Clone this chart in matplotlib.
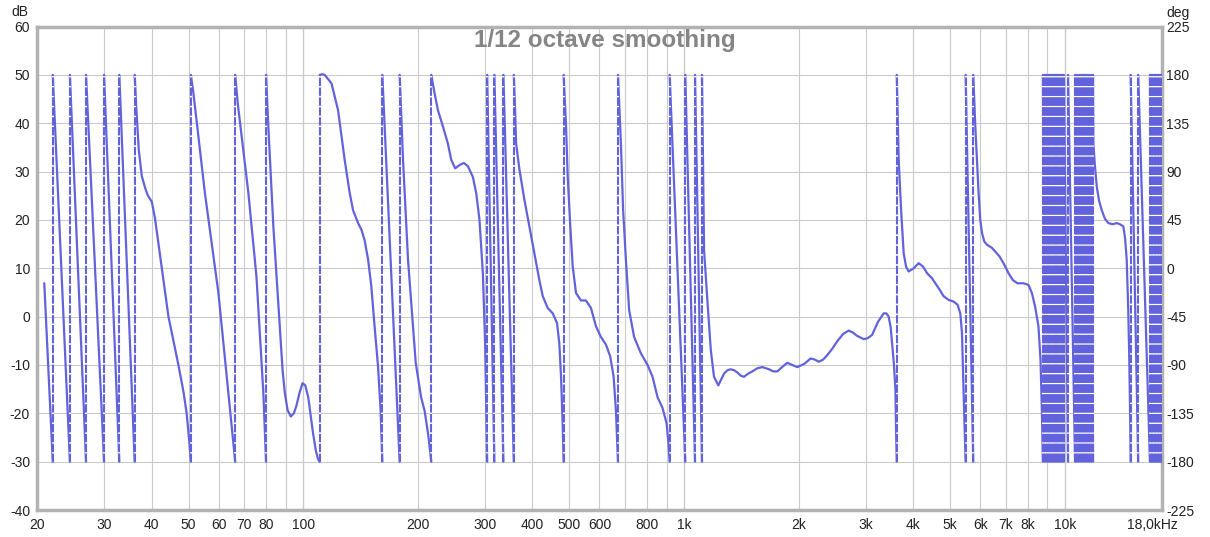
import numpy as np
import matplotlib
matplotlib.use("Agg")
import matplotlib.pyplot as plt
from matplotlib.transforms import ScaledTranslation

plt.rcParams['font.family'] = ['Liberation Sans', 'DejaVu Sans']

# ---------------- data ----------------
TITLE = "1/12 octave smoothing"
db_ticks = list(range(-40, 61, 10))
deg_ticks = list(range(-225, 226, 45))
freq_grid = [20, 30, 40, 50, 60, 70, 80, 90, 100, 200, 300, 400, 500, 600, 700, 800, 900,
             1000, 2000, 3000, 4000, 5000, 6000, 7000, 8000, 9000, 10000, 18000]
freq_labels = ["20", "30", "40", "50", "60", "70", "80", "", "100", "200", "300", "400", "500",
               "600", "", "800", "", "1k", "2k", "3k", "4k", "5k", "6k", "7k", "8k", "", "10k",
               "18,0kHz"]
decade_lines = [100, 1000, 10000]

# frequencies where the wrapped phase jumps from -180 back to +180 (Hz)
wrap_freq = [22.0, 24.4, 26.9, 30.0, 32.9, 36.1, 50.7, 66.3, 79.9, 110.5, 161.4, 179.2, 217.0,
             304.2, 317.8, 335.6, 357.4, 483, 671, 917, 1008, 1069, 1115, 3620, 5490, 5750,
             8760, 8853, 8947, 9042, 9138, 9235, 9333, 9432, 9532, 9633, 9735, 9839, 9943, 10200,
             10641, 10770, 10901, 11033, 11167, 11303, 11440, 11579, 11720, 11862,
             14890, 15590,
             16735, 16887, 17041, 17196, 17352, 17510, 17669, 17830, 17992]

# phase curve points between the wraps (Hz, degrees)
curve_freq = [20.9,
              36.45, 37.01, 37.68, 38.44, 39.06, 40.03, 40.8, 41.6, 42.51, 44.28, 47.03, 48.5, 49.43, 50.19,
              51.5, 55.2, 59.9, 64.9,
              67.3, 71.8, 75.4, 78.6,
              81.0, 83.5, 86.8, 88.3, 89.5, 91.0, 92.8, 94.5, 96.0, 97.8, 99.6, 101.3, 103.1, 104.7,
              106.2, 108.0, 109.5,
              112.0, 113.9, 118.7, 123.5, 128.5, 132.5, 135.2, 139.4, 142.2, 145.0, 148.1, 151.0,
              154.0, 157.3, 159.7,
              182.9, 188.5, 197.5, 204.0, 208.5, 213.0,
              221.3, 225.9, 232.8, 239.9, 244.8, 250.7, 257.3, 264.2, 270.7, 279.0, 284.7, 290.4,
              296.4, 300.5, 302.4,
              360.2, 362.4, 369.7, 380.9, 392.6, 404.7, 417.1, 425.7, 438.7, 452.2, 464.1, 470.6,
              475.5, 480.4,
              490.1, 495.1, 502.9, 510.2, 520.5, 536.4, 552.8, 569.8, 587.3, 605.2, 623.7, 640.2,
              653.5, 662.6, 669.4,
              682.9, 692.2, 703.8, 717.8, 739.7, 770.2, 802.3, 826.9, 852.2, 878.3, 899.8, 910.7,
              1129, 1152, 1176, 1199, 1231, 1250, 1274, 1300, 1327, 1355, 1381, 1410, 1437, 1475,
              1512, 1560, 1606, 1640, 1672, 1715, 1759, 1810, 1867, 1925, 1984, 2070, 2150, 2205,
              2260, 2320, 2377, 2450, 2526, 2620, 2709, 2780, 2850, 2966, 3040, 3120, 3230, 3345,
              3400, 3447, 3490, 3519, 3560, 3591, 3605,
              3663, 3717, 3775, 3830, 3890, 4011, 4133, 4245, 4348, 4481, 4571, 4693, 4806, 4954,
              5105, 5229, 5316, 5370, 5423, 5455,
              5821, 5880, 5938, 5998, 6061, 6144, 6242, 6436, 6566, 6739, 6904, 7115, 7306, 7511,
              7790, 8029, 8196, 8360, 8528, 8634, 8706,
              11885, 12000, 12133, 12300, 12505, 12750, 13014, 13350, 13689, 13950, 14246, 14400,
              14541, 14680, 14771, 14850,
              18100]
curve_deg = [-13.9,
             150, 110, 86, 75, 68, 62, 47, 25, 0, -45, -90, -115, -135, -160,
             163, 70, -23, -147,
             154, 70, -8, -116,
             132, 39, -54, -95, -116, -132, -138, -135, -128, -116, -107, -109, -120, -138,
             -154, -170, -178,
             180.5, 180, 172, 147, 101, 70, 54, 42, 36, 26, 8, -17,
             -54, -92, -132,
             101, 8, -88, -120, -133, -155,
             163, 147, 132, 116, 101, 93, 96, 98, 95, 85, 70, 45,
             -5, -70, -125,
             147, 116, 92, 64, 39, 14, -11, -26, -37, -42, -51, -70,
             -101, -147,
             132, 85, 39, 2, -23, -30, -30, -37, -54, -64, -71, -82,
             -101, -132, -172,
             116, 54, 8, -39, -64, -79, -90, -101, -120, -130, -144, -163,
             17, -30, -76, -101, -109, -104, -98, -95, -94, -95, -97, -100, -101, -98,
             -96, -93, -92, -93, -94, -96, -96, -92, -88, -90, -92, -89, -84, -85,
             -87, -85, -81, -75, -68, -61, -58, -60, -63, -66, -65, -62, -50, -42,
             -42, -45, -55, -70, -90, -113, -150,
             101, 54, 14, 1.5, -3, 0, 4.7, 1.5, -4.6, -9.3, -14, -20, -26, -29.5,
             -31, -34, -42, -60, -116, -147,
             132, 101, 70, 45, 33, 25, 22, 19, 15.5, 11, 4.7, -4.6, -11, -14,
             -14, -15.5, -23, -36, -54, -85, -132,
             116, 95, 76, 63, 54, 46, 42, 41, 42, 41, 39, 28,
             8, -40, -85, -140,
             120]

PHASE_LO, PHASE_HI = -180, 180

# ---------------- figure ----------------
W, H = 1210, 537
fig = plt.figure(figsize=(W / 100, H / 100), dpi=100)
L, R, T, B = 37, 1162, 26.5, 510
ax = fig.add_axes([L / W, 1 - B / H, (R - L) / W, (B - T) / H])
ax.set_xscale('log')
ax.set_xlim(20, 18000)
ax.set_ylim(-40, 60)

ax.set_xticks(freq_grid)
ax.set_xticklabels(freq_labels)
ax.xaxis.set_minor_locator(matplotlib.ticker.NullLocator())
ax.set_yticks(db_ticks)
ax.set_yticklabels([str(v) for v in db_ticks])
ax.grid(True, which='major', color='#cacaca', lw=0.8)
for d in decade_lines:
    ax.axvline(d, color='#8a8a8a', lw=0.8, zorder=1.5)
ax.tick_params(axis='both', length=0, labelsize=10, labelcolor='#222222')
ax.tick_params(axis='y', pad=5)
ax.tick_params(axis='x', pad=6)
for s in ax.spines.values():
    s.set_color('#b2b2b2')
    s.set_linewidth(2.5)
# last frequency label sits a little left of the right edge
last_lab = ax.get_xticklabels()[-1]
last_lab.set_transform(last_lab.get_transform() + ScaledTranslation(-10 / 100, 0, fig.dpi_scale_trans))

ax2 = ax.twinx()
ax2.set_ylim(-225, 225)
ax2.set_yticks(deg_ticks)
ax2.set_yticklabels([str(v) for v in deg_ticks])
ax2.tick_params(axis='y', length=0, labelsize=10, labelcolor='#222222', pad=3)
for s in ax2.spines.values():
    s.set_visible(False)

# build the wrapped phase polyline
events = sorted([(f, d) for f, d in zip(curve_freq, curve_deg)] +
                [(w, None) for w in wrap_freq], key=lambda e: e[0])
xs, ys = [], []
for f, d in events:
    if d is None:
        xs += [f, np.nan, f]
        ys += [PHASE_LO, np.nan, PHASE_HI]
    else:
        xs.append(f)
        ys.append(d)

line_color = '#6262dc'
ax2.plot(xs, ys, color=line_color, lw=1.6, solid_joinstyle='round', solid_capstyle='round', zorder=3)
for w in wrap_freq:
    ax2.plot([w, w], [PHASE_LO, PHASE_HI], color=line_color, lw=1.5,
             ls=(0, (4, 0.75)), gapcolor='white', zorder=4)

fig.text(605 / W, 1 - 40 / H, TITLE, ha='center', va='center', fontsize=17.5,
         fontweight='bold', color='#858585')
fig.text(20 / W, 1 - 12 / H, 'dB', ha='center', va='center', fontsize=10, color='#222222')
fig.text(1178 / W, 1 - 13 / H, 'deg', ha='center', va='center', fontsize=10, color='#222222')

fig.savefig('out.png', dpi=100)
